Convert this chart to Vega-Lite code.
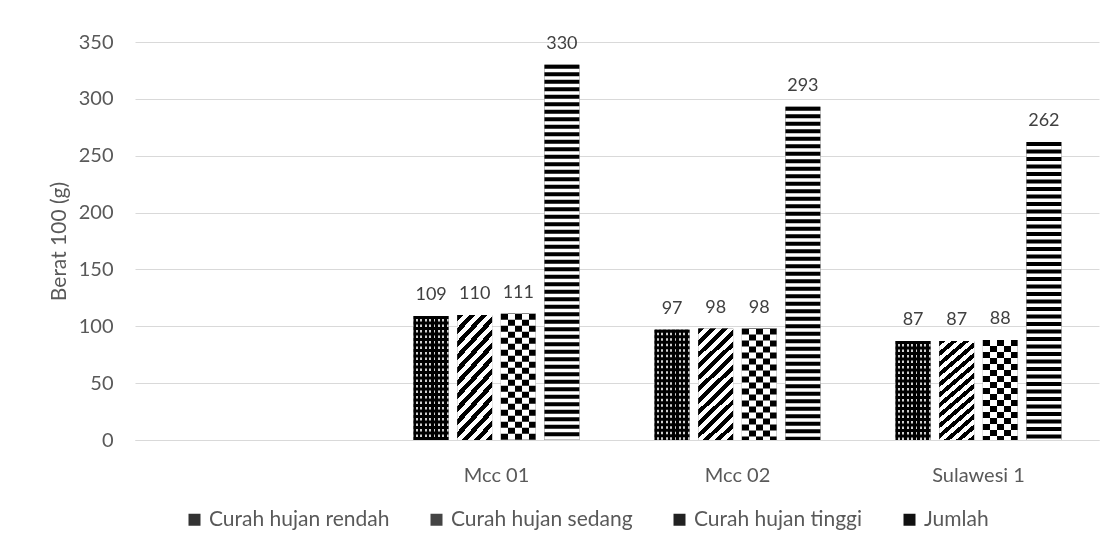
{
  "$schema": "https://vega.github.io/schema/vega-lite/v6.json",
  "width": 964,
  "height": 398,
  "autosize": {"type": "none"},
  "padding": {"left": 135, "top": 42, "right": 13, "bottom": 108},
  "background": "#ffffff",
  "config": {"view": {"stroke": null}, "font": "Lato"},
  "data": {
    "values": [
      {"cat": "Mcc 01", "series": "Curah hujan rendah", "value": 109},
      {"cat": "Mcc 01", "series": "Curah hujan sedang", "value": 110},
      {"cat": "Mcc 01", "series": "Curah hujan tinggi", "value": 111},
      {"cat": "Mcc 01", "series": "Jumlah", "value": 330},
      {"cat": "Mcc 02", "series": "Curah hujan rendah", "value": 97},
      {"cat": "Mcc 02", "series": "Curah hujan sedang", "value": 98},
      {"cat": "Mcc 02", "series": "Curah hujan tinggi", "value": 98},
      {"cat": "Mcc 02", "series": "Jumlah", "value": 293},
      {"cat": "Sulawesi 1", "series": "Curah hujan rendah", "value": 87},
      {"cat": "Sulawesi 1", "series": "Curah hujan sedang", "value": 87},
      {"cat": "Sulawesi 1", "series": "Curah hujan tinggi", "value": 88},
      {"cat": "Sulawesi 1", "series": "Jumlah", "value": 262}
    ]
  },
  "encoding": {
    "x": {
      "field": "cat", "type": "nominal",
      "scale": {"domain": [" ", "Mcc 01", "Mcc 02", "Sulawesi 1"], "paddingInner": 0.28, "paddingOuter": 0.14},
      "axis": {"title": null, "labelAngle": 0, "ticks": false, "domainColor": "#d9d9d9", "labelFont": "Lato", "labelFontSize": 20, "labelColor": "#595959", "labelPadding": 25}
    },
    "xOffset": {
      "field": "series", "type": "nominal",
      "scale": {"domain": ["Curah hujan rendah", "Curah hujan sedang", "Curah hujan tinggi", "Jumlah"], "paddingInner": 0.2, "paddingOuter": 0.09}
    },
    "y": {
      "field": "value", "type": "quantitative",
      "scale": {"domain": [0, 350]},
      "axis": {"values": [0, 50, 100, 150, 200, 250, 300, 350], "grid": true, "gridColor": "#d9d9d9", "domain": false, "ticks": false, "labelFont": "Lato", "labelFontSize": 20, "labelColor": "#595959", "labelPadding": 22, "title": "Berat 100 (g)", "titleFont": "Lato", "titleFontSize": 21, "titleFontWeight": "normal", "titleColor": "#595959", "titleAngle": 270, "titleX": -76, "titleY": 199, "titleAlign": "center", "titleBaseline": "middle"}
    }
  },
  "layer": [
    {
      "mark": {"type": "bar"},
      "encoding": {
        "color": {
          "field": "series", "type": "nominal",
          "scale": {"domain": ["Curah hujan rendah", "Curah hujan sedang", "Curah hujan tinggi", "Jumlah"], "range": ["#333333", "#444444", "#222222", "#111111"]},
          "legend": {
            "title": null, "orient": "none", "direction": "horizontal", "legendX": 49, "legendY": 467,
            "symbolType": "square", "symbolSize": 144, "symbolStrokeWidth": 0,
            "labelFont": "Lato", "labelFontSize": 21, "labelColor": "#595959", "labelOffset": 4, "labelLimit": 0, "columnPadding": 36, "padding": 0
          }
        }
      }
    },
    {
      "transform": [{"filter": "datum.series === 'Jumlah'"}],
      "mark": {"type": "bar", "fill": "#ffffff"},
      "encoding": {}
    },
    {
      "transform": [{"filter": "datum.series === 'Curah hujan rendah'"}],
      "mark": {"type": "bar", "fill": {"gradient": "linear", "x1": 0, "y1": 0, "x2": 1, "y2": 0, "stops": [{"offset": 0, "color": "#000"}, {"offset": 0.07, "color": "#000"}, {"offset": 0.07, "color": "#d0d0d0"}, {"offset": 0.125, "color": "#d0d0d0"}, {"offset": 0.125, "color": "#000"}, {"offset": 0.195, "color": "#000"}, {"offset": 0.195, "color": "#d0d0d0"}, {"offset": 0.25, "color": "#d0d0d0"}, {"offset": 0.25, "color": "#000"}, {"offset": 0.32, "color": "#000"}, {"offset": 0.32, "color": "#d0d0d0"}, {"offset": 0.375, "color": "#d0d0d0"}, {"offset": 0.375, "color": "#000"}, {"offset": 0.445, "color": "#000"}, {"offset": 0.445, "color": "#d0d0d0"}, {"offset": 0.5, "color": "#d0d0d0"}, {"offset": 0.5, "color": "#000"}, {"offset": 0.57, "color": "#000"}, {"offset": 0.57, "color": "#d0d0d0"}, {"offset": 0.625, "color": "#d0d0d0"}, {"offset": 0.625, "color": "#000"}, {"offset": 0.695, "color": "#000"}, {"offset": 0.695, "color": "#d0d0d0"}, {"offset": 0.75, "color": "#d0d0d0"}, {"offset": 0.75, "color": "#000"}, {"offset": 0.82, "color": "#000"}, {"offset": 0.82, "color": "#d0d0d0"}, {"offset": 0.875, "color": "#d0d0d0"}, {"offset": 0.875, "color": "#000"}, {"offset": 0.945, "color": "#000"}, {"offset": 0.945, "color": "#d0d0d0"}, {"offset": 1, "color": "#d0d0d0"}]}},
      "encoding": {}
    },
    {
      "transform": [{"filter": "datum.series === 'Curah hujan sedang'"}],
      "mark": {"type": "bar", "fill": {"gradient": "linear", "x1": 0, "y1": 0, "x2": 0.36, "y2": 1.19, "stops": [{"offset": 0, "color": "#000"}, {"offset": 0.04, "color": "#000"}, {"offset": 0.04, "color": "#fff"}, {"offset": 0.08, "color": "#fff"}, {"offset": 0.08, "color": "#000"}, {"offset": 0.12, "color": "#000"}, {"offset": 0.12, "color": "#fff"}, {"offset": 0.16, "color": "#fff"}, {"offset": 0.16, "color": "#000"}, {"offset": 0.2, "color": "#000"}, {"offset": 0.2, "color": "#fff"}, {"offset": 0.24, "color": "#fff"}, {"offset": 0.24, "color": "#000"}, {"offset": 0.28, "color": "#000"}, {"offset": 0.28, "color": "#fff"}, {"offset": 0.32, "color": "#fff"}, {"offset": 0.32, "color": "#000"}, {"offset": 0.36, "color": "#000"}, {"offset": 0.36, "color": "#fff"}, {"offset": 0.4, "color": "#fff"}, {"offset": 0.4, "color": "#000"}, {"offset": 0.44, "color": "#000"}, {"offset": 0.44, "color": "#fff"}, {"offset": 0.48, "color": "#fff"}, {"offset": 0.48, "color": "#000"}, {"offset": 0.52, "color": "#000"}, {"offset": 0.52, "color": "#fff"}, {"offset": 0.56, "color": "#fff"}, {"offset": 0.56, "color": "#000"}, {"offset": 0.6, "color": "#000"}, {"offset": 0.6, "color": "#fff"}, {"offset": 0.64, "color": "#fff"}, {"offset": 0.64, "color": "#000"}, {"offset": 0.68, "color": "#000"}, {"offset": 0.68, "color": "#fff"}, {"offset": 0.72, "color": "#fff"}, {"offset": 0.72, "color": "#000"}, {"offset": 0.76, "color": "#000"}, {"offset": 0.76, "color": "#fff"}, {"offset": 0.8, "color": "#fff"}, {"offset": 0.8, "color": "#000"}, {"offset": 0.84, "color": "#000"}, {"offset": 0.84, "color": "#fff"}, {"offset": 0.88, "color": "#fff"}, {"offset": 0.88, "color": "#000"}, {"offset": 0.92, "color": "#000"}, {"offset": 0.92, "color": "#fff"}, {"offset": 0.96, "color": "#fff"}, {"offset": 0.96, "color": "#000"}, {"offset": 1, "color": "#000"}]}},
      "encoding": {}
    },
    {
      "transform": [{"filter": "datum.series === 'Curah hujan tinggi'"}],
      "mark": {"type": "bar", "fill": {"gradient": "linear", "x1": 0, "y1": 0, "x2": 1, "y2": 0, "stops": [{"offset": 0, "color": "#fff"}, {"offset": 0.2, "color": "#fff"}, {"offset": 0.2, "color": "#000"}, {"offset": 0.4, "color": "#000"}, {"offset": 0.4, "color": "#fff"}, {"offset": 0.6, "color": "#fff"}, {"offset": 0.6, "color": "#000"}, {"offset": 0.8, "color": "#000"}, {"offset": 0.8, "color": "#fff"}, {"offset": 1, "color": "#fff"}]}},
      "encoding": {}
    },
    {
      "transform": [{"filter": "datum.series === 'Curah hujan rendah'"}],
      "mark": {"type": "rule", "stroke": "#000", "strokeWidth": 34.88, "strokeDash": [3, 2.5], "strokeCap": "butt"},
      "encoding": {"y2": {"datum": 0}}
    },
    {
      "transform": [{"filter": "datum.series === 'Curah hujan tinggi'"}],
      "mark": {"type": "rule", "stroke": "#fff", "strokeWidth": 34.88, "strokeDash": [6, 6], "strokeCap": "butt", "blend": "difference"},
      "encoding": {"y2": {"datum": 0}}
    },
    {
      "transform": [{"filter": "datum.series === 'Jumlah'"}],
      "mark": {"type": "rule", "stroke": "#000", "strokeWidth": 34.88, "strokeDash": [4, 3.5], "strokeCap": "butt"},
      "encoding": {"y2": {"datum": 0}}
    },
    {
      "mark": {"type": "text", "baseline": "alphabetic", "align": "center", "dy": -16, "font": "Lato", "fontSize": 18, "color": "#404040"},
      "encoding": {"text": {"field": "value", "type": "quantitative"}}
    }
  ]
}
